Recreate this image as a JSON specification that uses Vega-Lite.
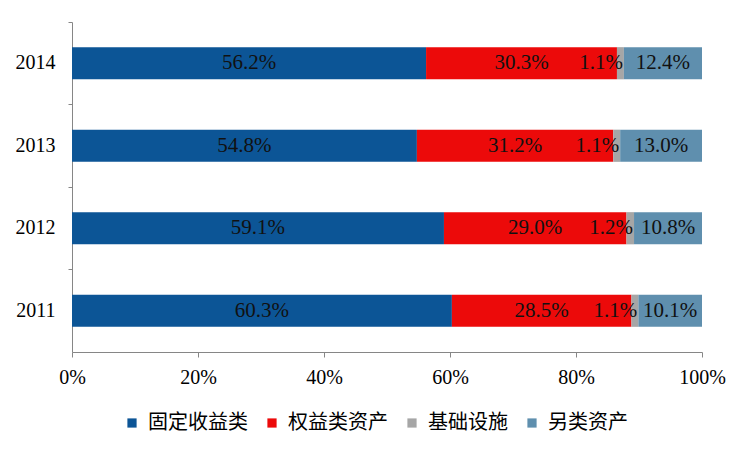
{
  "$schema": "https://vega.github.io/schema/vega-lite/v6.json",
  "autosize": {"type": "none"},
  "width": 630,
  "height": 330,
  "padding": {"left": 72, "top": 22, "right": 49, "bottom": 99},
  "background": "white",
  "config": {"view": {"stroke": null}},
  "data": {"values": [
    {"year": "2014", "cat": "固定收益类", "o": 1, "v": 0.562},
    {"year": "2014", "cat": "权益类资产", "o": 2, "v": 0.303},
    {"year": "2014", "cat": "基础设施", "o": 3, "v": 0.011},
    {"year": "2014", "cat": "另类资产", "o": 4, "v": 0.124},
    {"year": "2013", "cat": "固定收益类", "o": 1, "v": 0.548},
    {"year": "2013", "cat": "权益类资产", "o": 2, "v": 0.312},
    {"year": "2013", "cat": "基础设施", "o": 3, "v": 0.011},
    {"year": "2013", "cat": "另类资产", "o": 4, "v": 0.130},
    {"year": "2012", "cat": "固定收益类", "o": 1, "v": 0.591},
    {"year": "2012", "cat": "权益类资产", "o": 2, "v": 0.290},
    {"year": "2012", "cat": "基础设施", "o": 3, "v": 0.012},
    {"year": "2012", "cat": "另类资产", "o": 4, "v": 0.108},
    {"year": "2011", "cat": "固定收益类", "o": 1, "v": 0.603},
    {"year": "2011", "cat": "权益类资产", "o": 2, "v": 0.285},
    {"year": "2011", "cat": "基础设施", "o": 3, "v": 0.011},
    {"year": "2011", "cat": "另类资产", "o": 4, "v": 0.101}
  ]},
  "transform": [
    {"stack": "v", "groupby": ["year"], "sort": [{"field": "o", "order": "ascending"}], "offset": "normalize", "as": ["s0", "s1"]},
    {"calculate": "(datum.s0 + datum.s1) / 2", "as": "mid"}
  ],
  "encoding": {
    "y": {
      "field": "year", "type": "nominal", "sort": "descending",
      "scale": {"paddingInner": 0, "paddingOuter": 0},
      "axis": {
        "title": null, "bandPosition": 0, "labelFont": "Liberation Serif", "labelFontSize": 20,
        "labelColor": "#000000", "tickSize": 4, "tickColor": "#868686", "domainColor": "#868686",
        "labelPadding": 13, "grid": false
      }
    }
  },
  "layer": [
    {
      "mark": {"type": "bar", "height": {"band": 0.39}},
      "encoding": {
        "x": {
          "field": "s0", "type": "quantitative", "scale": {"domain": [0, 1], "nice": false},
          "axis": {
            "title": null, "values": [0, 0.2, 0.4, 0.6, 0.8, 1], "format": ".0%",
            "labelFont": "Liberation Serif", "labelFontSize": 20, "labelColor": "#000000",
            "labelFlush": false, "tickSize": 5, "tickColor": "#868686", "domainColor": "#868686",
            "labelPadding": 10, "grid": false
          }
        },
        "x2": {"field": "s1"},
        "color": {
          "field": "cat", "type": "nominal",
          "scale": {
            "domain": ["固定收益类", "权益类资产", "基础设施", "另类资产"],
            "range": ["#0c5596", "#ec0a0a", "#a6a6a6", "#5f8fae"]
          },
          "legend": {
            "title": null, "orient": "none", "legendX": 50, "legendY": 391, "direction": "horizontal",
            "columns": 4, "symbolType": "square", "symbolSize": 85, "symbolStrokeWidth": 0,
            "labelFont": "Noto Sans CJK SC", "labelFontSize": 20, "labelColor": "#000000",
            "labelOffset": 6, "columnPadding": 14, "padding": 0
          }
        }
      }
    },
    {
      "transform": [{"filter": "datum.cat !== '基础设施'"}],
      "mark": {"type": "text", "font": "Liberation Serif", "fontSize": 21, "color": "#111111", "baseline": "middle"},
      "encoding": {
        "x": {"field": "mid", "type": "quantitative"},
        "text": {"field": "v", "type": "quantitative", "format": ".1%"}
      }
    },
    {
      "transform": [{"filter": "datum.cat === '基础设施'"}],
      "mark": {"type": "text", "font": "Liberation Serif", "fontSize": 21, "color": "#111111", "baseline": "middle", "align": "right", "dx": -1},
      "encoding": {
        "x": {"field": "s1", "type": "quantitative"},
        "text": {"field": "v", "type": "quantitative", "format": ".1%"}
      }
    }
  ]
}
